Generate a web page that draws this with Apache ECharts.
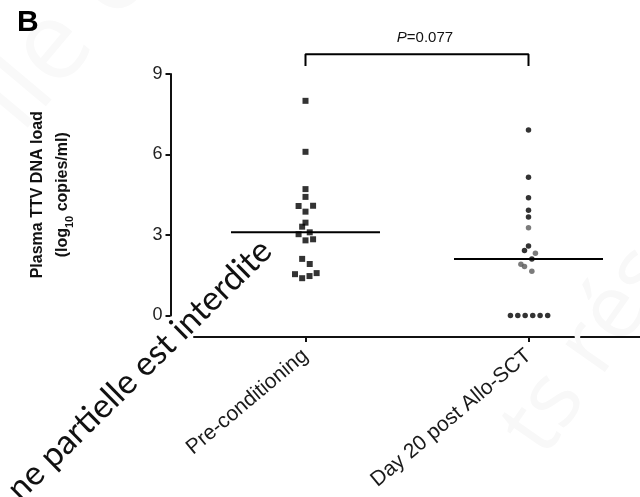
<!DOCTYPE html>
<html>
<head>
<meta charset="utf-8">
<script src="https://cdn.jsdelivr.net/npm/echarts@6/dist/echarts.min.js"></script>
<style>
html,body{margin:0;padding:0;background:#fff;}
#chart{width:640px;height:497px;}
</style>
</head>
<body>
<div id="chart"></div>
<script>
// ---- data ----
const categories = ['Pre-conditioning', 'Day 20 post Allo-SCT'];
const yTicks = [0, 3, 6, 9];
// Pre-conditioning (squares): log10 copies/ml, with small horizontal jitter (category units)
const preValues = [8.0, 6.10, 4.71, 4.42, 4.08, 4.09, 3.87, 3.46, 3.31, 3.03, 3.10, 2.80, 2.84, 2.11, 1.92, 1.54, 1.39, 1.47, 1.58];
const preJitter = [0, 0, 0, 0, -0.031, 0.034, 0, 0, -0.015, -0.031, 0.019, 0, 0.034, -0.015, 0.019, -0.047, -0.015, 0.018, 0.050];
// Day 20 post Allo-SCT (circles)
const postValues = [6.91, 5.15, 4.39, 3.92, 3.67, 2.59, 2.42, 2.11, 0, 0, 0, 0, 0, 0];
const postJitter = [0, 0, 0, 0, 0, 0, -0.018, 0.015, -0.081, -0.048, -0.015, 0.019, 0.052, 0.086];
const postGreyValues = [3.27, 2.32, 1.91, 1.83, 1.65];
const postGreyJitter = [0, 0.031, -0.034, -0.018, 0.015];
const medians = [3.10, 2.11];
const pText = '=0.077';

// ---- chart ----
const FONT = '"Liberation Sans", Arial, sans-serif';
const medianHalf = 0.334;
const chart = echarts.init(document.getElementById('chart'), null, {renderer: 'canvas'});

const medianData = [];
medians.forEach((m, i) => {
  medianData.push([i - medianHalf, m], [i + medianHalf, m], null);
});

const option = {
  backgroundColor: '#fff',
  animation: false,
  grid: {left: 194, right: -5.4, top: 74, bottom: 181.5, containLabel: false},
  xAxis: [
    {type: 'value', min: -0.5, max: 1.5, show: false},
    {
      type: 'category', data: categories, position: 'bottom', offset: 21.5,
      boundaryGap: true,
      axisLine: {show: true, onZero: false, lineStyle: {color: '#111', width: 2}},
      axisTick: {show: true, alignWithLabel: true, length: 5, lineStyle: {color: '#111', width: 2}},
      axisLabel: {rotate: 40, fontSize: 21, color: '#1a1a1a', fontFamily: FONT, margin: 16},
      splitLine: {show: false}
    }
  ],
  yAxis: {
    type: 'value', min: yTicks[0], max: yTicks[yTicks.length - 1], interval: 3, offset: 23.5,
    axisLine: {show: true, onZero: false, lineStyle: {color: '#111', width: 2}},
    axisTick: {show: true, length: 5, lineStyle: {color: '#111', width: 2}},
    axisLabel: {fontSize: 18, color: '#222', fontFamily: FONT, margin: 8},
    splitLine: {show: false},
    name: '{b|Plasma TTV DNA load}\n{b|(log}{s|10}{b| copies/ml)}',
    nameLocation: 'middle', nameGap: 95, nameRotate: 90,
    nameTextStyle: {
      fontFamily: FONT, color: '#111', lineHeight: 25,
      rich: {
        b: {fontSize: 16, fontWeight: 'bold', fontFamily: FONT, color: '#111', lineHeight: 25},
        s: {fontSize: 11, fontWeight: 'bold', fontFamily: FONT, color: '#111', lineHeight: 25, verticalAlign: 'bottom', padding: [6, 0, 0, 0]}
      }
    }
  },
  series: [
    {
      type: 'scatter', xAxisIndex: 0, symbol: 'rect', symbolSize: 6,
      itemStyle: {color: '#000'},
      data: preValues.map((v, i) => [0 + preJitter[i], v]), z: 5
    },
    {
      type: 'scatter', xAxisIndex: 0, symbol: 'circle', symbolSize: 5.5,
      itemStyle: {color: '#000'},
      data: postValues.map((v, i) => [1 + postJitter[i], v]), z: 5
    },
    {
      type: 'scatter', xAxisIndex: 0, symbol: 'circle', symbolSize: 5.5,
      itemStyle: {color: '#5a5a5a'},
      data: postGreyValues.map((v, i) => [1 + postGreyJitter[i], v]), z: 5
    },
    {
      type: 'line', xAxisIndex: 0, symbol: 'none', connectNulls: false,
      lineStyle: {color: '#000', width: 2},
      data: medianData, z: 4
    },
    {
      type: 'line', xAxisIndex: 0, symbol: 'none', clip: false,
      lineStyle: {color: '#000', width: 2},
      data: [[0, 9.3], [0, 9.74], [1, 9.74], [1, 9.3]], z: 4
    }
  ],
  graphic: [
    {type: 'text', left: 17, top: 8, z: 10,
      style: {text: 'B', font: 'bold 30px "Liberation Sans", Arial, sans-serif', fill: '#000'}},
    {type: 'text', x: 425, y: 38, z: 10,
      style: {text: '{i|P}{n|' + pText + '}', align: 'center', verticalAlign: 'middle',
        rich: {i: {fontStyle: 'italic', fontSize: 15, fontFamily: FONT, fill: '#111'},
               n: {fontSize: 15, fontFamily: FONT, fill: '#111'}}}},
    {type: 'text', x: 560, y: 470, rotation: 55 * Math.PI / 180, z: 1,
      style: {text: 'ts réservés', font: '90px "Open Sans", sans-serif', fill: '#f8f8f8', align: 'left', verticalAlign: 'bottom'}},
    {type: 'text', x: 40, y: 150, rotation: 50 * Math.PI / 180, z: 1,
      style: {text: 'lle e', font: '110px "Open Sans", sans-serif', fill: '#f9f9f9', align: 'left', verticalAlign: 'bottom'}},
    {type: 'text', x: 1, y: 482, rotation: 44.5 * Math.PI / 180, z: 20,
      style: {text: 'ne partielle est interdite', font: '34px Lato, "Open Sans", sans-serif', fill: '#111', align: 'left', verticalAlign: 'alphabetic'}}
  ]
};
chart.setOption(option);
</script>
</body>
</html>
